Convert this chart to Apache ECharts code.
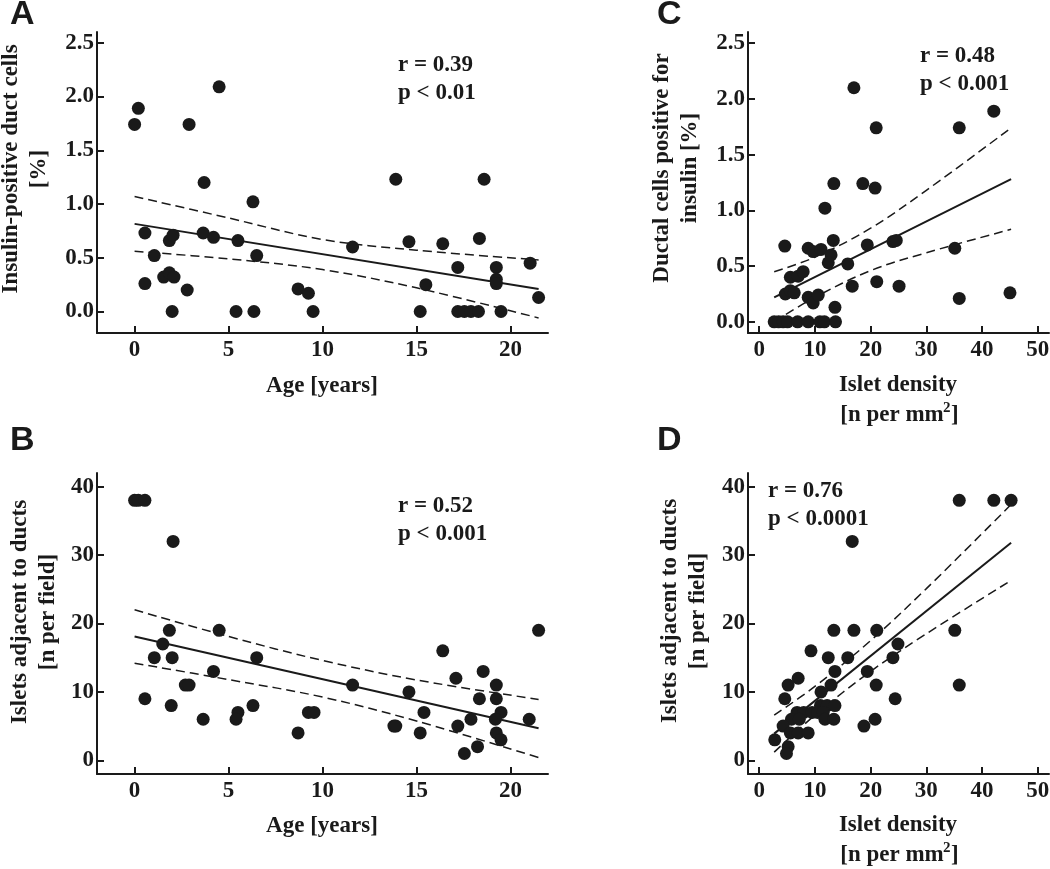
<!DOCTYPE html>
<html><head><meta charset="utf-8">
<script src="https://cdn.jsdelivr.net/npm/echarts@6/dist/echarts.min.js"></script>
<style>html,body{margin:0;padding:0;background:#fff}#c{width:1050px;height:869px}</style>
</head><body><div id="c"></div>
<script>
// ---------- Panel A: insulin-positive duct cells [%] vs age [years]
const ageA = [0.0,0.2,2.9,4.5,3.7,13.9,18.6,6.3,0.55,1.85,2.05,1.05,0.55,1.55,1.85,2.1,2.0,2.8,3.65,4.2,5.5,5.4,6.5,6.35,8.7,9.25,9.5,11.6,14.6,16.4,18.35,21.05,17.2,19.25,19.25,19.25,15.5,15.2,17.2,17.55,17.9,18.3,19.5,21.5];
const insA = [1.74,1.89,1.74,2.09,1.20,1.23,1.23,1.02,0.73,0.66,0.71,0.52,0.26,0.32,0.36,0.32,0.0,0.20,0.73,0.69,0.66,0.0,0.52,0.0,0.21,0.17,0.0,0.60,0.65,0.63,0.68,0.45,0.41,0.41,0.30,0.26,0.25,0.0,0.0,0.0,0.0,0.0,0.0,0.13];
const fitA_x = [0, 21.5];
const fitA_y = [0.815, 0.21];
const ciA_x = [0, 5, 10, 15, 21.5];
const ciA_hi = [1.07, 0.87, 0.67, 0.57, 0.48];
const ciA_lo = [0.56, 0.49, 0.39, 0.22, -0.06];

// ---------- Panel B: islets adjacent to ducts vs age
const ageB = [0.0,0.2,0.55,2.05,1.85,4.5,21.5,1.5,16.4,1.05,2.0,6.5,4.2,18.55,17.1,2.7,2.9,11.6,19.25,14.6,0.55,18.35,19.25,1.95,6.3,5.5,9.25,9.55,15.4,19.5,3.65,5.4,17.9,19.2,21.0,13.8,13.9,17.2,8.7,15.2,19.25,19.5,18.25,17.55];
const isletsB = [38,38,38,32,19,19,19,17,16,15,15,15,13,13,12,11,11,11,11,10,9,9,9,8,8,7,7,7,7,7,6,6,6,6,6,5,5,5,4,4,4,3,2,1];
const fitB_x = [0, 21.5];
const fitB_y = [18.1, 4.7];
const ciB_x = [0, 5, 10, 15, 21.5];
const ciB_hi = [22.0, 18.1, 14.6, 11.75, 8.9];
const ciB_lo = [14.2, 11.8, 9.25, 5.75, 0.4];

// ---------- Panel C: ductal cells positive for insulin [%] vs islet density
const densC = [17.0,21.0,35.9,42.1,13.4,18.6,20.8,11.8,4.6,8.8,9.7,11.1,13.3,12.9,12.4,19.4,24.0,24.6,15.9,35.1,5.6,7.0,7.9,4.7,5.6,6.3,8.8,9.7,10.6,16.7,21.1,25.1,35.9,45.0,13.6,2.7,3.5,4.3,5.1,6.9,8.8,10.9,11.7,13.7];
const insC = [2.10,1.74,1.74,1.89,1.24,1.24,1.20,1.02,0.68,0.66,0.63,0.65,0.73,0.60,0.53,0.69,0.72,0.73,0.52,0.66,0.40,0.41,0.45,0.25,0.28,0.26,0.22,0.17,0.24,0.32,0.36,0.32,0.21,0.26,0.13,0,0,0,0,0,0,0,0,0];
const fitC_x = [2.7, 45.2];
const fitC_y = [0.22, 1.28];
const ciC_x = [2.7, 10, 20, 30, 45.2];
const ciC_hi = [0.45, 0.58, 0.84, 1.18, 1.74];
const ciC_lo = [0.0, 0.22, 0.46, 0.62, 0.83];

// ---------- Panel D: islets adjacent to ducts vs islet density
const densD = [35.9,42.1,45.2,16.7,13.4,17.0,21.1,35.1,24.9,9.3,12.4,15.9,24.0,13.6,19.4,7.0,5.2,12.9,21.0,35.9,11.1,4.6,24.4,11.0,12.2,13.6,6.8,8.0,9.5,10.5,11.5,5.8,7.2,11.8,13.4,20.8,18.8,4.3,5.6,7.0,8.8,2.8,5.2,4.9];
const isletsD = [38,38,38,32,19,19,19,19,17,16,15,15,15,13,13,12,11,11,11,11,10,9,9,8,8,8,7,7,7,7,7,6,6,6,6,6,5,5,4,4,4,3,2,1];
const fitD_x = [2.7, 45.2];
const fitD_y = [3.9, 31.8];
const ciD_x = [2.7, 10, 20, 30, 45.2];
const ciD_hi = [6.6, 10.8, 17.5, 25.1, 37.4];
const ciD_lo = [1.2, 6.6, 13.0, 18.5, 26.3];

// ---------- ticks
const ticksAge = [0, 5, 10, 15, 20];
const ticksDensity = [0, 10, 20, 30, 40, 50];
const ticksPct = [0, 0.5, 1.0, 1.5, 2.0, 2.5];
const ticksIslets = [0, 10, 20, 30, 40];

// ---------- texts
const stats = [
  ['r = 0.39', 'p < 0.01'],
  ['r = 0.52', 'p < 0.001'],
  ['r = 0.48', 'p < 0.001'],
  ['r = 0.76', 'p < 0.0001']
];
const panelLetters = ['A', 'B', 'C', 'D'];

const INK = '#1a1a1a';
const SERIF = '"Liberation Serif", "Times New Roman", serif';
const SANS = '"Liberation Sans", Arial, sans-serif';

const zip = (xs, ys) => xs.map((x, i) => [x, ys[i]]);

function xAx(gi, min, max, ticks) {
  return {
    type: 'value', gridIndex: gi, min: min, max: max,
    axisLine: { show: true, onZero: false, lineStyle: { color: INK, width: 2 } },
    axisTick: { show: true, inside: true, length: 7, customValues: ticks, lineStyle: { color: INK, width: 2 } },
    axisLabel: { customValues: ticks, margin: 6, color: INK, fontFamily: SERIF, fontWeight: 'bold', fontSize: 23 },
    splitLine: { show: false }
  };
}
function yAx(gi, min, max, ticks, dec) {
  return {
    type: 'value', gridIndex: gi, min: min, max: max,
    axisLine: { show: true, onZero: false, lineStyle: { color: INK, width: 2 } },
    axisTick: { show: true, inside: true, length: 7, customValues: ticks, lineStyle: { color: INK, width: 2 } },
    axisLabel: { customValues: ticks, margin: 3, color: INK, fontFamily: SERIF, fontWeight: 'bold', fontSize: 23,
      formatter: v => dec ? Number(v).toFixed(1) : String(Math.round(v)) },
    splitLine: { show: false }
  };
}
function scat(i, xs, ys) {
  return { type: 'scatter', xAxisIndex: i, yAxisIndex: i, data: zip(xs, ys), symbol: 'circle', symbolSize: 13,
    itemStyle: { color: INK, opacity: 1 }, z: 3, silent: true };
}
function ln(i, xs, ys, dashed) {
  return { type: 'line', xAxisIndex: i, yAxisIndex: i, data: zip(xs, ys), showSymbol: false, symbol: 'none',
    smooth: dashed ? 0.35 : false, silent: true, z: 2,
    lineStyle: dashed ? { color: INK, width: 1.5, type: [9, 5] } : { color: INK, width: 2 } };
}
function txt(x, y, text, opts) {
  return Object.assign({ type: 'text', x: x, y: y, silent: true,
    style: Object.assign({ text: text, fill: INK, font: 'bold 23px ' + SERIF, textAlign: 'left', textVerticalAlign: 'middle' }, opts || {}) });
}
function rtxt(x, y, text) {
  return { type: 'text', x: x, y: y, rotation: Math.PI / 2, silent: true,
    style: { text: text, fill: INK, font: 'bold 23px ' + SERIF, textAlign: 'center', textVerticalAlign: 'middle', lineHeight: 28 } };
}
function densName(x, y) {
  return { type: 'group', x: x, y: y, silent: true, children: [
    { type: 'text', x: 0, y: 0, style: { text: 'Islet density', fill: INK, font: 'bold 23px ' + SERIF, textAlign: 'center', textVerticalAlign: 'middle' } },
    { type: 'text', x: -6, y: 30, style: { text: '[n per mm', fill: INK, font: 'bold 23px ' + SERIF, textAlign: 'center', textVerticalAlign: 'middle' } },
    { type: 'text', x: 45, y: 23, style: { text: '2', fill: INK, font: 'bold 15px ' + SERIF, textAlign: 'left', textVerticalAlign: 'middle' } },
    { type: 'text', x: 53, y: 30, style: { text: ']', fill: INK, font: 'bold 23px ' + SERIF, textAlign: 'left', textVerticalAlign: 'middle' } }
  ] };
}

const graphics = [
  txt(10, 14.5, panelLetters[0], { font: 'bold 34px ' + SANS }),
  txt(10, 440.5, panelLetters[1], { font: 'bold 34px ' + SANS }),
  txt(657, 14.5, panelLetters[2], { font: 'bold 34px ' + SANS }),
  txt(657, 440.5, panelLetters[3], { font: 'bold 34px ' + SANS }),
  txt(398, 65, stats[0][0]), txt(398, 93, stats[0][1]),
  txt(398, 506.5, stats[1][0]), txt(398, 534.5, stats[1][1]),
  txt(920, 56, stats[2][0]), txt(920, 84.5, stats[2][1]),
  txt(768, 491.5, stats[3][0]), txt(768, 519, stats[3][1]),
  rtxt(25, 169, 'Insulin-positive duct cells\n[%]'),
  rtxt(34, 612, 'Islets adjacent to ducts\n[n per field]'),
  rtxt(676, 168, 'Ductal cells positive for\ninsulin [%]'),
  rtxt(684, 611, 'Islets adjacent to ducts\n[n per field]'),
  txt(322, 386, 'Age [years]', { textAlign: 'center' }),
  txt(322, 826, 'Age [years]', { textAlign: 'center' }),
  densName(898, 385),
  densName(898, 825)
];

const chart = echarts.init(document.getElementById('c'), null, { renderer: 'canvas' });
chart.setOption({
  backgroundColor: '#ffffff',
  animation: false,
  grid: [
    { left: 97, top: 32, width: 451, height: 301, outerBoundsMode: 'none', containLabel: false },
    { left: 97, top: 473, width: 451, height: 301, outerBoundsMode: 'none', containLabel: false },
    { left: 748, top: 32, width: 301, height: 301, outerBoundsMode: 'none', containLabel: false },
    { left: 748, top: 473, width: 301, height: 301, outerBoundsMode: 'none', containLabel: false }
  ],
  xAxis: [
    xAx(0, -2, 22, ticksAge),
    xAx(1, -2, 22, ticksAge),
    xAx(2, -2, 52, ticksDensity),
    xAx(3, -2, 52, ticksDensity)
  ],
  yAxis: [
    yAx(0, -0.2, 2.6, ticksPct, true),
    yAx(1, -2, 42, ticksIslets, false),
    yAx(2, -0.1, 2.6, ticksPct, true),
    yAx(3, -2, 42, ticksIslets, false)
  ],
  series: [
    ln(0, fitA_x, fitA_y, false), ln(0, ciA_x, ciA_hi, true), ln(0, ciA_x, ciA_lo, true), scat(0, ageA, insA),
    ln(1, fitB_x, fitB_y, false), ln(1, ciB_x, ciB_hi, true), ln(1, ciB_x, ciB_lo, true), scat(1, ageB, isletsB),
    ln(2, fitC_x, fitC_y, false), ln(2, ciC_x, ciC_hi, true), ln(2, ciC_x, ciC_lo, true), scat(2, densC, insC),
    ln(3, fitD_x, fitD_y, false), ln(3, ciD_x, ciD_hi, true), ln(3, ciD_x, ciD_lo, true), scat(3, densD, isletsD)
  ],
  graphic: graphics
});
</script></body></html>
